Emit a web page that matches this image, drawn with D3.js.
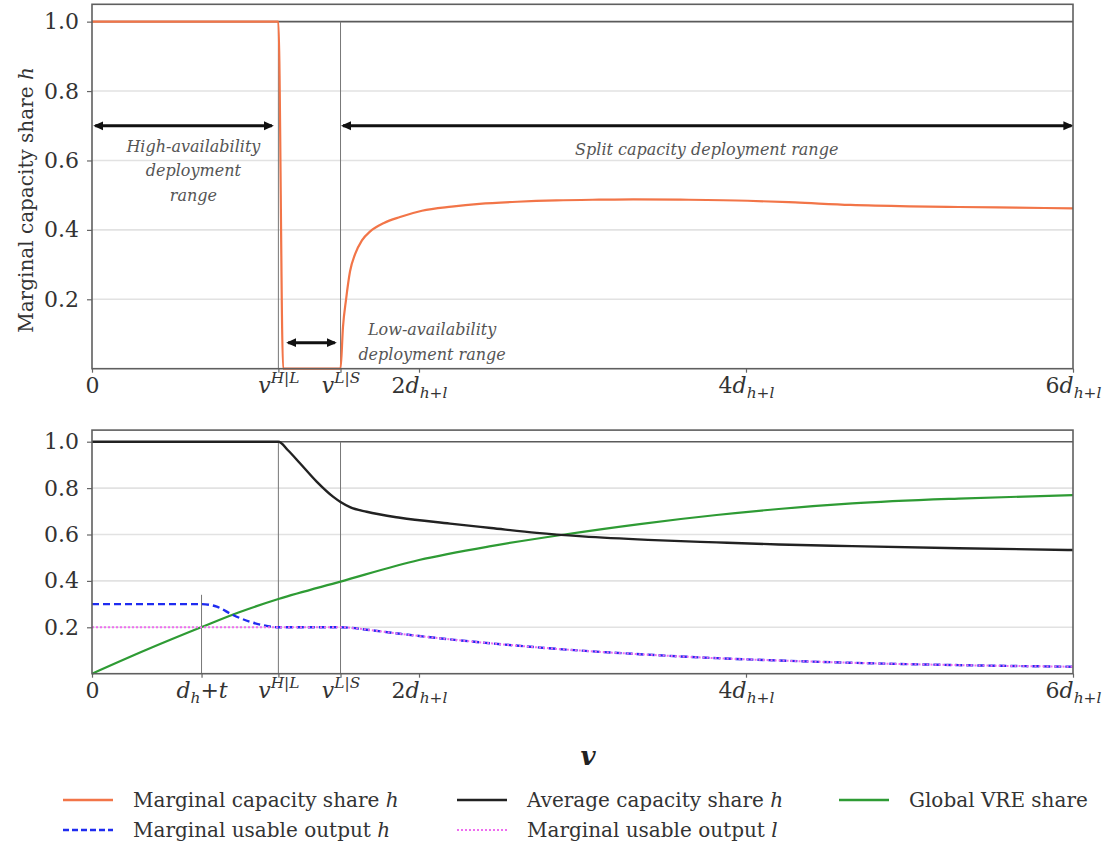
<!DOCTYPE html>
<html>
<head>
<meta charset="utf-8">
<script src="https://cdn.jsdelivr.net/npm/d3@7"></script>
<style>
  body { margin: 0; background: #fff; }
  svg { display: block; }
  .serif { font-family: "DejaVu Serif", serif; }
  .note { font-family: "DejaVu Serif", serif; font-style: italic; }
</style>
</head>
<body>
<svg id="chart" width="1110" height="851"></svg>
<script>
// Regime boundaries, in units of d_{h+l}
const vHL = 1.14;   // v^{H|L}
const vLS = 1.52;   // v^{L|S}
const dHT = 0.67;   // d_h + t

// Upper panel: marginal capacity share h
const marginalX = [0, 1.14, 1.169, 1.52, 1.535, 1.554, 1.578, 1.609, 1.651, 1.70, 1.786, 1.884, 2.018, 2.20, 2.37, 2.60, 2.84, 3.10, 3.31, 3.60, 4.01, 4.30, 4.64, 5.00, 5.30, 5.65, 6.0];
const marginalH = [1, 1, 0, 0, 0.12, 0.20, 0.28, 0.33, 0.37, 0.395, 0.42, 0.437, 0.455, 0.467, 0.475, 0.481, 0.485, 0.487, 0.488, 0.487, 0.484, 0.479, 0.472, 0.468, 0.466, 0.464, 0.462];

// Lower panel: average capacity share h
const averageX = [0, 1.14, 1.20, 1.272, 1.374, 1.476, 1.52, 1.578, 1.68, 1.884, 2.19, 2.44, 2.72, 3.0, 3.4, 3.82, 4.2, 4.65, 5.3, 6.0];
const averageH = [1, 1, 0.962, 0.907, 0.828, 0.762, 0.740, 0.718, 0.698, 0.672, 0.647, 0.628, 0.607, 0.592, 0.577, 0.566, 0.557, 0.550, 0.541, 0.533];

// Lower panel: global VRE share
const vreX = [0, 0.333, 0.667, 0.9, 1.14, 1.52, 2.0, 2.44, 2.89, 3.35, 3.82, 4.2, 4.65, 5.3, 6.0];
const vreShare = [0, 0.103, 0.20, 0.265, 0.322, 0.397, 0.49, 0.55, 0.60, 0.645, 0.684, 0.71, 0.734, 0.755, 0.770];

// Lower panel: marginal usable output of h and of l
const usableX = [0, 0.67, 0.763, 0.862, 0.966, 1.069, 1.14, 1.52, 1.70, 1.884, 2.19, 2.44, 2.90, 3.40, 3.82, 4.20, 4.65, 5.30, 6.0];
const usableH = [0.3, 0.3, 0.289, 0.253, 0.224, 0.206, 0.2, 0.2, 0.188, 0.172, 0.148, 0.131, 0.104, 0.082, 0.067, 0.057, 0.047, 0.037, 0.030];
const usableL = [0.2, 0.2, 0.2, 0.2, 0.2, 0.2, 0.2, 0.2, 0.188, 0.172, 0.148, 0.131, 0.104, 0.082, 0.067, 0.057, 0.047, 0.037, 0.030];

// Tick values and labels
const yTicks = [0.2, 0.4, 0.6, 0.8, 1.0];
const topXTicks = [0, vHL, vLS, 2, 4, 6];
const topXLabels = ["$0$", "$v^{H|L}$", "$v^{L|S}$", "$2d_{h+l}$", "$4d_{h+l}$", "$6d_{h+l}$"];
const botXTicks = [0, dHT, vHL, vLS, 2, 4, 6];
const botXLabels = ["$0$", "$d_{h}+t$", "$v^{H|L}$", "$v^{L|S}$", "$2d_{h+l}$", "$4d_{h+l}$", "$6d_{h+l}$"];

// Legend entries
const legendLabels = ["Marginal capacity share $h$", "Average capacity share $h$", "Global VRE share",
                      "Marginal usable output $h$", "Marginal usable output $l$"];

const COL = { marg: "#f27548", avg: "#222222", vre: "#2e9b34", useH: "#1f2cf0", useL: "#ee6ef0" };

const svg = d3.select("#chart");

// Small TeX-like renderer: $...$ is math (letters italic, ^{} and _{} scripts)
function richText(sel, str, size) {
  const toks = [];
  let math = false;
  for (let i = 0; i < str.length; i++) {
    const c = str[i];
    if (c === "$") { math = !math; continue; }
    if (math && (c === "^" || c === "_")) {
      let grp = "";
      if (str[i + 1] === "{") {
        let j = i + 2;
        while (str[j] !== "}") { grp += str[j]; j++; }
        i = j;
      } else { grp = str[i + 1]; i++; }
      for (const g of grp) toks.push({ s: g, it: /[A-Za-z]/.test(g), sc: 0.7, rise: c === "^" ? 0.42 : -0.22 });
      continue;
    }
    toks.push({ s: c, it: math && /[A-Za-z]/.test(c), sc: 1, rise: 0 });
  }
  const runs = [];
  toks.forEach(t => {
    const last = runs[runs.length - 1];
    if (last && last.it === t.it && last.sc === t.sc && last.rise === t.rise) last.s += t.s;
    else runs.push({ ...t });
  });
  let cur = 0;
  runs.forEach(r => {
    sel.append("tspan")
      .attr("font-size", size * r.sc)
      .attr("font-style", r.it ? "italic" : "normal")
      .attr("dy", -(r.rise - cur) * size)
      .text(r.s);
    cur = r.rise;
  });
}

const x = d3.scaleLinear().domain([0, 6]).range([92, 1073]);

const panels = [
  { y: d3.scaleLinear().domain([0, 1.05]).range([368.7, 4.3]), ticks: topXTicks, labels: topXLabels },
  { y: d3.scaleLinear().domain([0, 1.05]).range([673.7, 430.1]), ticks: botXTicks, labels: botXLabels }
];

// Arrow marker for the deployment-range annotations
svg.append("defs").append("marker")
  .attr("id", "head").attr("viewBox", "0 0 10 10")
  .attr("refX", 8).attr("refY", 5)
  .attr("markerWidth", 10).attr("markerHeight", 10)
  .attr("markerUnits", "userSpaceOnUse")
  .attr("orient", "auto-start-reverse")
  .append("path").attr("d", "M0,0.5 L10,5 L0,9.5 z").attr("fill", "#111");

panels.forEach((p, idx) => {
  const g = svg.append("g");
  const y = p.y;
  const [x0, x1] = x.range();
  const [yb, yt] = y.range();

  // horizontal grid
  g.selectAll(".grid").data(yTicks.slice(0, 4)).join("line")
    .attr("x1", x0).attr("x2", x1)
    .attr("y1", d => y(d)).attr("y2", d => y(d))
    .attr("stroke", "#e2e2e2").attr("stroke-width", 1.6);

  // reference line at share = 1
  g.append("line").attr("x1", x0).attr("x2", x1)
    .attr("y1", y(1)).attr("y2", y(1))
    .attr("stroke", "#5a5a5a").attr("stroke-width", 1.6);

  // vertical markers of regime boundaries
  const vlines = idx === 0 ? [[vHL, 1], [vLS, 1]] : [[dHT, 0.34], [vHL, 1], [vLS, 1]];
  g.selectAll(".vline").data(vlines).join("line")
    .attr("x1", d => x(d[0])).attr("x2", d => x(d[0]))
    .attr("y1", yb).attr("y2", d => y(d[1]))
    .attr("stroke", "#777").attr("stroke-width", 1);

  // y axis
  const ya = g.append("g").attr("transform", `translate(${x0},0)`)
    .call(d3.axisLeft(y).tickValues(yTicks).tickSize(5).tickPadding(8).tickFormat(d3.format(".1f")));
  ya.select(".domain").remove();
  ya.attr("font-family", null).attr("font-size", null);
  ya.selectAll("line").attr("stroke", "#666").attr("stroke-width", 1.2);
  ya.selectAll("text").attr("class", "serif").attr("font-size", 22).attr("fill", "#333");

  // x axis with typeset labels
  const xa = g.append("g").attr("transform", `translate(0,${yb})`)
    .call(d3.axisBottom(x).tickValues(p.ticks).tickSize(4).tickFormat(""));
  xa.select(".domain").remove();
  xa.attr("font-family", null).attr("font-size", null);
  xa.selectAll("line").attr("stroke", "#666").attr("stroke-width", 1.2);
  xa.selectAll(".tick").append("text")
    .attr("class", "serif")
    .attr("y", 24).attr("text-anchor", "middle").attr("fill", "#333")
    .each(function (d, i) { richText(d3.select(this), p.labels[i], 22); });

  p.g = g;
});

// ---- upper panel ----
const upper = panels[0];
const lineUpper = d3.line().x(d => x(d[0])).y(d => upper.y(d[1])).curve(d3.curveMonotoneX);
upper.g.append("path")
  .datum(d3.zip(marginalX, marginalH))
  .attr("d", lineUpper).attr("fill", "none")
  .attr("stroke", COL.marg).attr("stroke-width", 2.2);

// deployment range arrows
const ranges = [[0.02, 1.10, 0.70], [1.535, 5.99, 0.70], [1.20, 1.485, 0.075]];
upper.g.selectAll(".arrow").data(ranges).join("line")
  .attr("x1", d => x(d[0])).attr("x2", d => x(d[1]))
  .attr("y1", d => upper.y(d[2])).attr("y2", d => upper.y(d[2]))
  .attr("stroke", "#111").attr("stroke-width", 3)
  .attr("marker-start", "url(#head)").attr("marker-end", "url(#head)");

const notes = [
  { x: 0.62, y: 0.639, lines: ["High-availability", "deployment", "range"] },
  { x: 3.76, y: 0.630, lines: ["Split capacity deployment range"] },
  { x: 2.08, y: 0.111, lines: ["Low-availability", "deployment range"] }
];
notes.forEach(n => {
  const t = upper.g.append("text")
    .attr("class", "note")
    .attr("x", x(n.x)).attr("y", upper.y(n.y) + 5)
    .attr("text-anchor", "middle")
    .attr("font-size", 16).attr("fill", "#555");
  n.lines.forEach((l, i) => t.append("tspan").attr("x", x(n.x)).attr("dy", i ? 24.5 : 0).text(l));
});

// ---- lower panel ----
const lower = panels[1];
const lineLower = d3.line().x(d => x(d[0])).y(d => lower.y(d[1])).curve(d3.curveMonotoneX);
lower.g.append("path").datum(d3.zip(vreX, vreShare)).attr("d", lineLower)
  .attr("fill", "none").attr("stroke", COL.vre).attr("stroke-width", 2.2);
lower.g.append("path").datum(d3.zip(averageX, averageH)).attr("d", lineLower)
  .attr("fill", "none").attr("stroke", COL.avg).attr("stroke-width", 2.4);
lower.g.append("path").datum(d3.zip(usableX, usableH)).attr("d", lineLower)
  .attr("fill", "none").attr("stroke", COL.useH).attr("stroke-width", 2.4)
  .attr("stroke-dasharray", "7,4");
lower.g.append("path").datum(d3.zip(usableX, usableL)).attr("d", lineLower)
  .attr("fill", "none").attr("stroke", COL.useL).attr("stroke-width", 2)
  .attr("stroke-dasharray", "2,2");

// frames
panels.forEach(p => {
  const [yb, yt] = p.y.range();
  svg.append("rect")
    .attr("x", x(0)).attr("y", yt).attr("width", x(6) - x(0)).attr("height", yb - yt)
    .attr("fill", "none").attr("stroke", "#5f5f5f").attr("stroke-width", 1.6);
});

// axis titles
svg.append("text")
  .attr("class", "serif")
  .attr("transform", `translate(33,200) rotate(-90)`)
  .attr("text-anchor", "middle").attr("fill", "#333")
  .call(t => richText(t, "Marginal capacity share $h$", 20));

svg.append("text")
  .attr("class", "serif")
  .attr("x", 588).attr("y", 765).attr("text-anchor", "middle")
  .attr("font-weight", "bold").attr("font-style", "italic")
  .attr("font-size", 26).attr("fill", "#222").text("v");

// legend
const legendStyle = [
  { c: COL.marg, w: 2.6, dash: null },
  { c: COL.avg, w: 2.6, dash: null },
  { c: COL.vre, w: 2.6, dash: null },
  { c: COL.useH, w: 2.6, dash: "6,3" },
  { c: COL.useL, w: 2, dash: "2,2" }
];
const legendPos = [[63, 800], [457, 800], [839, 800], [63, 830], [457, 830]];
const leg = svg.append("g").selectAll("g").data(legendLabels).join("g")
  .attr("transform", (d, i) => `translate(${legendPos[i][0]},${legendPos[i][1]})`);
leg.append("line").attr("x1", 0).attr("x2", 50).attr("y1", 0).attr("y2", 0)
  .attr("stroke", (d, i) => legendStyle[i].c)
  .attr("stroke-width", (d, i) => legendStyle[i].w)
  .attr("stroke-dasharray", (d, i) => legendStyle[i].dash);
leg.append("text").attr("class", "serif").attr("x", 70).attr("y", 7)
  .attr("fill", "#333")
  .each(function (d) { richText(d3.select(this), d, 20); });
</script>
</body>
</html>
